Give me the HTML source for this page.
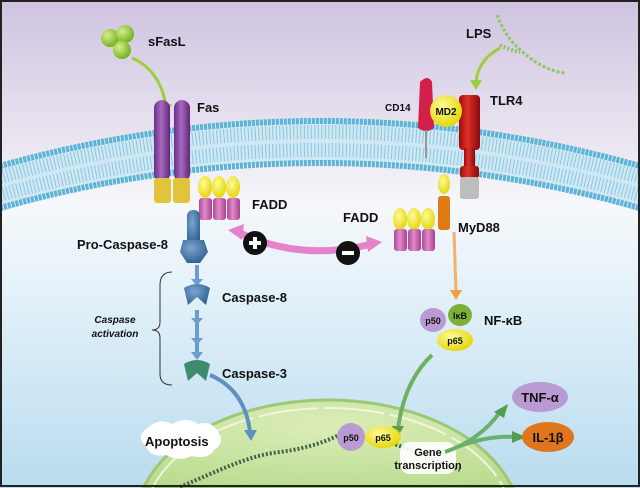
<!DOCTYPE html>
<html><head><meta charset="utf-8"><style>
html,body{margin:0;padding:0;background:#fff;width:640px;height:488px;overflow:hidden}
svg{display:block;overflow:hidden}
text{font-family:"Liberation Sans",sans-serif;font-weight:bold;fill:#111}
</style></head><body>
<svg width="640" height="488" viewBox="0 0 640 488">
<defs>
<linearGradient id="bg" x1="0" y1="0" x2="0" y2="1">
<stop offset="0" stop-color="#cfc3e0"/><stop offset="0.3" stop-color="#ebe6f1"/><stop offset="0.42" stop-color="#f6f8fb"/><stop offset="0.6" stop-color="#e3f1f9"/><stop offset="1" stop-color="#b9dcef"/></linearGradient>
<radialGradient id="ball" cx="0.35" cy="0.35" r="0.7"><stop offset="0" stop-color="#d6f08a"/><stop offset="1" stop-color="#6fae1e"/></radialGradient>
<linearGradient id="purp" x1="0" x2="1"><stop offset="0" stop-color="#6a2f86"/><stop offset="0.45" stop-color="#a868c0"/><stop offset="1" stop-color="#5f2778"/></linearGradient>
<linearGradient id="red" x1="0" x2="1"><stop offset="0" stop-color="#9a0c0c"/><stop offset="0.4" stop-color="#e0302a"/><stop offset="1" stop-color="#8a0a0a"/></linearGradient>
<linearGradient id="pink" x1="0" x2="1"><stop offset="0" stop-color="#b04a98"/><stop offset="0.45" stop-color="#e08ac8"/><stop offset="1" stop-color="#a84090"/></linearGradient>
<radialGradient id="yel" cx="0.4" cy="0.35" r="0.7"><stop offset="0" stop-color="#fffb9a"/><stop offset="1" stop-color="#e3d400"/></radialGradient>
<radialGradient id="blue" cx="0.4" cy="0.35" r="0.7"><stop offset="0" stop-color="#7aa6d0"/><stop offset="1" stop-color="#2f5e90"/></radialGradient>
<radialGradient id="nuc" cx="0.5" cy="0.3" r="0.8"><stop offset="0" stop-color="#dcedb8"/><stop offset="1" stop-color="#b9db8e"/></radialGradient>
</defs>
<rect x="0" y="0" width="640" height="488" fill="url(#bg)"/>

<g>
<path d="M0,163 Q320,73 640,163 L640,212 Q320,112 0,212 Z" fill="#cfe8f3"/>
<path d="M0,166 Q320,76 640,166" fill="none" stroke="#5db3d6" stroke-width="6" stroke-dasharray="3 1"/>
<path d="M0,177 Q320,87 640,177" fill="none" stroke="#8cc6dc" stroke-width="14" stroke-dasharray="1 2.5"/>
<path d="M0,195 Q320,105 640,195" fill="none" stroke="#8cc6dc" stroke-width="14" stroke-dasharray="1 2.5"/>
<path d="M0,208 Q320,118 640,208" fill="none" stroke="#5db3d6" stroke-width="6" stroke-dasharray="3 1"/>
</g>

<g>
<path d="M143.6,488 A192,122 0 0 1 512.4,488 Z" fill="url(#nuc)" stroke="#9cc876" stroke-width="3"/>
<path d="M152.4,488 A184,114 0 0 1 503.6,488" fill="none" stroke="#eef7dc" stroke-width="2" stroke-dasharray="60 6"/>
<path d="M180,487 C220,470 250,455 280,452 C310,448 330,440 345,432" fill="none" stroke="#44604a" stroke-width="4" stroke-dasharray="2 2"/>
<path d="M380,440 C410,448 430,458 460,470" fill="none" stroke="#44604a" stroke-width="4" stroke-dasharray="2 2"/>
</g>

<g>
<circle cx="110" cy="38" r="9" fill="url(#ball)"/><circle cx="125" cy="34" r="9" fill="url(#ball)"/><circle cx="122" cy="50" r="9" fill="url(#ball)"/>
</g>
<text x="148" y="46" font-size="13">sFasL</text>
<path d="M132,58 Q160,70 166,106" fill="none" stroke="#9ccf3c" stroke-width="3"/>
<polygon points="160,104 172,104 166,114" fill="#9ccf3c"/>

<g>
<rect x="154" y="100" width="16" height="82" rx="8" fill="url(#purp)"/>
<rect x="174" y="100" width="16" height="82" rx="8" fill="url(#purp)"/>
<rect x="154" y="178" width="17" height="25" rx="3" fill="#e1c33c"/>
<rect x="173" y="178" width="17" height="25" rx="3" fill="#e1c33c"/>
</g>
<text x="197" y="112" font-size="13">Fas</text>

<g>
<ellipse cx="205" cy="187" rx="7" ry="11" fill="url(#yel)"/><ellipse cx="219" cy="187" rx="7" ry="11" fill="url(#yel)"/><ellipse cx="233" cy="187" rx="7" ry="11" fill="url(#yel)"/>
<rect x="199" y="198" width="13" height="22" rx="3" fill="url(#pink)"/><rect x="213" y="198" width="13" height="22" rx="3" fill="url(#pink)"/><rect x="227" y="198" width="13" height="22" rx="3" fill="url(#pink)"/>
</g>
<text x="252" y="209" font-size="13">FADD</text>

<g>
<rect x="187" y="210" width="13" height="35" rx="6" fill="url(#blue)"/>
<path d="M183,240 L204,240 L208,252 L200,263 L187,263 L180,252 Z" fill="url(#blue)"/>
</g>
<text x="77" y="249" font-size="13">Pro-Caspase-8</text>
<g fill="#6b9ccc">
<rect x="195" y="265" width="4" height="16"/><polygon points="191,279 203,279 197,286"/>
<rect x="195" y="310" width="4" height="45"/><polygon points="191,318 203,318 197,325"/><polygon points="191,338 203,338 197,345"/><polygon points="191,352 203,352 197,360"/>
</g>
<path d="M184,288 Q197,280 210,288 L206,305 L197,297 L188,305 Z" fill="url(#blue)"/>
<text x="222" y="302" font-size="13">Caspase-8</text>
<path d="M184,364 Q197,356 210,364 L206,381 L197,373 L188,381 Z" fill="#3e8c6e"/>
<text x="222" y="378" font-size="13">Caspase-3</text>
<path d="M172,272 Q160,272 160,285 L160,322 Q160,330 152,330 Q160,330 160,338 L160,374 Q160,385 172,385" fill="none" stroke="#333" stroke-width="1"/>
<text x="115" y="323" font-size="10" font-style="italic" text-anchor="middle"><tspan x="115">Caspase</tspan><tspan x="115" dy="14">activation</tspan></text>
<path d="M210,375 Q245,390 250,432" fill="none" stroke="#5f90c0" stroke-width="4"/>
<polygon points="244,430 257,430 251,441" fill="#5f90c0"/>

<path d="M150,426 Q160,418 172,424 Q185,416 198,424 Q212,420 218,432 Q226,442 214,450 Q208,460 192,456 Q178,462 166,455 Q150,458 146,446 Q134,436 150,426 Z" fill="#fff"/>
<text x="145" y="446" font-size="13">Apoptosis</text>

<path d="M238,232 Q300,262 372,244" fill="none" stroke="#e483c8" stroke-width="7"/>
<polygon points="228,230 244,224 242,240" fill="#e483c8"/><polygon points="382,242 366,236 368,252" fill="#e483c8"/>
<g><circle cx="255" cy="243" r="12" fill="#111"/><rect x="249" y="241" width="12" height="4" fill="#fff"/><rect x="253" y="237" width="4" height="12" fill="#fff"/></g>
<g><circle cx="348" cy="253" r="12" fill="#111"/><rect x="342" y="251" width="12" height="4" fill="#fff"/></g>

<text x="343" y="222" font-size="13">FADD</text>
<g>
<ellipse cx="400" cy="219" rx="7" ry="11" fill="url(#yel)"/><ellipse cx="414" cy="219" rx="7" ry="11" fill="url(#yel)"/><ellipse cx="428" cy="219" rx="7" ry="11" fill="url(#yel)"/>
<rect x="394" y="229" width="13" height="22" rx="3" fill="url(#pink)"/><rect x="408" y="229" width="13" height="22" rx="3" fill="url(#pink)"/><rect x="422" y="229" width="13" height="22" rx="3" fill="url(#pink)"/>
</g>
<g>
<ellipse cx="444" cy="184" rx="6" ry="10" fill="url(#yel)"/>
<rect x="438" y="196" width="12" height="34" rx="3" fill="#e07b14"/>
</g>
<text x="458" y="232" font-size="13">MyD88</text>
<path d="M454,232 L456,292" stroke="#f2b06a" stroke-width="3"/>
<polygon points="450,290 462,290 456,300" fill="#f0a040"/>

<g>
<rect x="459" y="95" width="21" height="55" rx="4" fill="url(#red)"/>
<rect x="464" y="148" width="11" height="20" fill="url(#red)"/>
<rect x="460" y="166" width="19" height="12" rx="3" fill="url(#red)"/>
<rect x="460" y="177" width="19" height="22" rx="3" fill="#bdbdbd"/>
</g>
<text x="490" y="105" font-size="13">TLR4</text>
<g>
<path d="M420,82 Q428,74 432,82 L434,128 Q426,134 418,128 Z" fill="#d2204a"/>
<line x1="426" y1="130" x2="426" y2="158" stroke="#999" stroke-width="2"/>
</g>
<text x="385" y="111" font-size="10">CD14</text>
<circle cx="446" cy="111" r="16" fill="url(#yel)"/>
<text x="446" y="115" font-size="10" text-anchor="middle">MD2</text>
<text x="466" y="38" font-size="13">LPS</text>
<g fill="none" stroke="#8cc860">
<path d="M497,15 Q505,35 515,45 Q540,70 565,73" stroke-width="3" stroke-dasharray="3 2"/>
<path d="M500,45 Q510,50 520,52" stroke-width="4" stroke-dasharray="2 2"/>
</g>
<path d="M500,48 Q478,60 476,82" fill="none" stroke="#9ccf3c" stroke-width="3"/>
<polygon points="470,80 482,80 476,90" fill="#9ccf3c"/>

<g>
<ellipse cx="433" cy="320" rx="13" ry="12" fill="#b99ad2"/>
<ellipse cx="460" cy="315" rx="12" ry="11" fill="#7cb03a"/>
<ellipse cx="455" cy="340" rx="18" ry="11" fill="url(#yel)"/>
<text x="433" y="324" font-size="9" text-anchor="middle">p50</text>
<text x="460" y="319" font-size="9" text-anchor="middle">IκB</text>
<text x="455" y="344" font-size="9" text-anchor="middle">p65</text>
</g>
<text x="484" y="325" font-size="13">NF-κB</text>
<path d="M432,355 Q405,380 398,428" fill="none" stroke="#70b060" stroke-width="4"/>
<polygon points="392,426 404,426 397,438" fill="#5a9e48"/>

<g>
<ellipse cx="383" cy="437" rx="18" ry="11" fill="url(#yel)"/>
<circle cx="351" cy="437" r="14" fill="#b99ad2"/>
<text x="351" y="441" font-size="9" text-anchor="middle">p50</text>
<text x="383" y="441" font-size="9" text-anchor="middle">p65</text>
</g>
<rect x="400" y="442" width="56" height="32" rx="10" fill="#fff" opacity="0.9"/>
<text x="428" y="456" font-size="11" text-anchor="middle"><tspan x="428">Gene</tspan><tspan x="428" dy="13">transcription</tspan></text>
<path d="M445,452 Q480,440 500,412" fill="none" stroke="#6ab06a" stroke-width="4"/>
<polygon points="494,412 508,404 504,418" fill="#4f9e50"/>
<path d="M460,446 Q490,435 515,437" fill="none" stroke="#6ab06a" stroke-width="4"/>
<polygon points="512,431 526,437 512,443" fill="#4f9e50"/>
<ellipse cx="540" cy="397" rx="28" ry="15" fill="#b99ad2"/>
<text x="540" y="402" font-size="13" text-anchor="middle">TNF-α</text>
<ellipse cx="548" cy="437" rx="26" ry="15" fill="#e0761c"/>
<text x="548" y="442" font-size="13" text-anchor="middle">IL-1β</text>

<rect x="1" y="1" width="638" height="485" fill="none" stroke="#222" stroke-width="2"/>
</svg>
</body></html>
